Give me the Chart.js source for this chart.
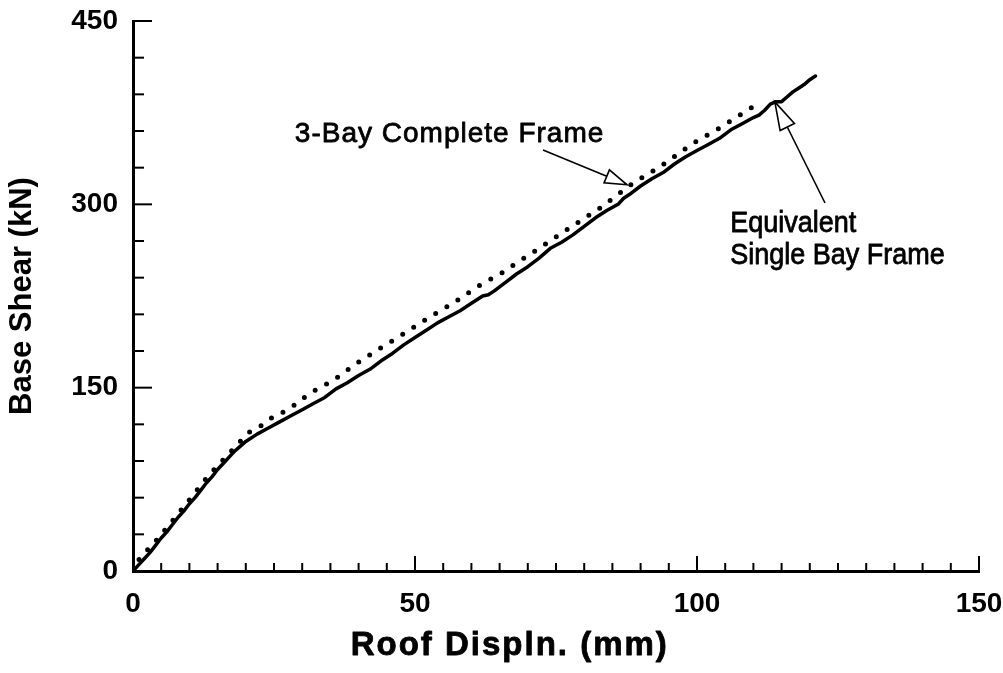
<!DOCTYPE html>
<html><head><meta charset="utf-8">
<script src="https://cdn.jsdelivr.net/npm/chart.js@4/dist/chart.umd.min.js"></script>
<style>html,body{margin:0;padding:0;background:#fff}canvas{display:block}</style>
</head><body>
<canvas id="c" width="1003" height="673"></canvas>
<script>
// ---- data ----
const singleX = [0,1,2,3,4,5,6,7,8,9,10,11,12,13,14,15,16,17,18,19,20,22,24,26,28,30,32,34,36,38,40,42,44,46,48,50,52,54,56,58,60,62,63,64,66,68,70,72,74,76,78,80,82,84,86,87,88,90,92,94,96,98,100,102,104,106,108,110,111,112,113,114,115,116,117,118,119,120,121];
const singleY = [0,5,10,15,21,27,32,38,44,49,55,60,66,72,77,83,88,93,98,102,106,112,117,122,127,132,137,142,149,154,160,165,172,178,185,191,197,203,208,213,219,225,226,229,236,243,249,256,264,269,275,282,289,295,300,305,308,315,321,326,333,339,344,349,354,361,366,371,373,377,382,384,384,388,392,395,398,402,405];
const bay3X = [0,1.2,3.9,7.1,10.4,13.3,16.6,18.4,20.4,23,24.8,26.6,28.4,31.4,35.5,39.7,44.1,48.2,52.7,56.7,61.2,65.4,68,72,76.2,82.8,88.7,93.4,99.3,104,108.2,110.3];
const bay3Y = [0,10.6,23.7,41.7,60.6,77.7,94,103,113,119.5,126,130,135,145.6,156,170,183,194.7,208,219,233,244,252,264,277,297,317.5,330.6,350,362.5,374.8,381];
const xTickLabels = [0,50,100,150];
const yTickLabels = [0,150,300,450];
const xMinorStep = 5;
const yMinorStep = 30;
const xTitle = 'Roof Displn. (mm)';
const yTitle = 'Base Shear (kN)';
const label3Bay = '3-Bay Complete Frame';
const labelSingle = ['Equivalent', 'Single Bay Frame'];

const FONT = '"Liberation Sans", Arial, sans-serif';
const toPts = (xs, ys) => xs.map((x, i) => ({x: x, y: ys[i]}));

function arrow(ctx, x1, y1, x2, y2, hl, hw) {
  const ang = Math.atan2(y2 - y1, x2 - x1);
  const bx = x2 - hl * Math.cos(ang), by = y2 - hl * Math.sin(ang);
  ctx.beginPath(); ctx.moveTo(x1, y1); ctx.lineTo(bx, by); ctx.stroke();
  const nx = -Math.sin(ang), ny = Math.cos(ang);
  ctx.beginPath();
  ctx.moveTo(x2, y2);
  ctx.lineTo(bx + nx * hw, by + ny * hw);
  ctx.lineTo(bx - nx * hw, by - ny * hw);
  ctx.closePath();
  ctx.fillStyle = '#fff'; ctx.fill(); ctx.stroke();
}

function heavyText(ctx, t, px, py, font, sx, spacing, align) {
  ctx.save();
  ctx.font = font;
  ctx.letterSpacing = spacing;
  ctx.textAlign = align;
  ctx.textBaseline = 'alphabetic';
  ctx.fillStyle = '#000'; ctx.strokeStyle = '#000';
  ctx.lineWidth = 0.8; ctx.lineJoin = 'round';
  ctx.translate(px, py);
  ctx.scale(sx, 1);
  ctx.fillText(t, 0, 0);
  ctx.strokeText(t, 0, 0);
  ctx.restore();
}

const decor = {
  id: 'decor',
  afterDatasetsDraw(chart) {
    const ctx = chart.ctx, x = chart.scales.x, y = chart.scales.y;
    const x0 = x.getPixelForValue(0), y0 = y.getPixelForValue(0);
    ctx.save();
    ctx.strokeStyle = '#000'; ctx.lineWidth = 2;
    for (let v = xMinorStep; v <= x.max; v += xMinorStep) {
      const px = x.getPixelForValue(v);
      const major = xTickLabels.includes(v);
      ctx.beginPath(); ctx.moveTo(px, y0); ctx.lineTo(px, y0 - (major ? 15 : 8)); ctx.stroke();
    }
    for (let v = yMinorStep; v <= y.max; v += yMinorStep) {
      const py = y.getPixelForValue(v);
      const major = yTickLabels.includes(v);
      ctx.beginPath(); ctx.moveTo(x0, py); ctx.lineTo(x0 + (major ? 19 : 11), py); ctx.stroke();
    }
    // annotations
    ctx.lineWidth = 1.6;
    arrow(ctx, x.getPixelForValue(72.7), y.getPixelForValue(344.5), x.getPixelForValue(87.6), y.getPixelForValue(316), 22, 7);
    arrow(ctx, x.getPixelForValue(122.7), y.getPixelForValue(301.1), x.getPixelForValue(113.8), y.getPixelForValue(383.8), 28, 8);
    ctx.restore();
    heavyText(ctx, label3Bay, x.getPixelForValue(28.7), y.getPixelForValue(351), '28px ' + FONT, 1, '1px', 'left');
    heavyText(ctx, labelSingle[0], x.getPixelForValue(105.9), y.getPixelForValue(277.4), '30px ' + FONT, 0.9, '0px', 'left');
    heavyText(ctx, labelSingle[1], x.getPixelForValue(105.9), y.getPixelForValue(251.2), '30px ' + FONT, 0.9, '0px', 'left');
    heavyText(ctx, xTitle, x.getPixelForValue(66.8), y.getPixelForValue(-68.7), 'bold 33px ' + FONT, 1, '2px', 'center');
  }
};

new Chart(document.getElementById('c'), {
  type: 'line',
  data: {
    datasets: [
      {
        label: 'Equivalent Single Bay Frame',
        data: toPts(singleX, singleY),
        borderColor: '#000', borderWidth: 3.5, pointRadius: 0, tension: 0,
        borderJoinStyle: 'round', borderCapStyle: 'round'
      },
      {
        label: '3-Bay Complete Frame',
        data: toPts(bay3X, bay3Y),
        borderColor: '#000', borderWidth: 5, pointRadius: 0, tension: 0,
        borderDash: [0, 13], borderCapStyle: 'round'
      }
    ]
  },
  options: {
    responsive: false,
    animation: false,
    devicePixelRatio: 1,
    layout: {padding: {top: 21, right: 24, left: 0, bottom: 0}},
    plugins: {legend: {display: false}, tooltip: {enabled: false}},
    scales: {
      x: {
        type: 'linear', min: 0, max: 150,
        afterBuildTicks: s => { s.ticks = xTickLabels.map(v => ({value: v})); },
        afterFit: s => { s.height = 102; s.paddingLeft = 0; s.paddingRight = 0; },
        ticks: {color: '#000', padding: 16, maxRotation: 0, autoSkip: false, font: {family: FONT, size: 28, weight: 'bold'}},
        grid: {display: true, drawOnChartArea: false, drawTicks: false, color: '#000'},
        border: {display: true, color: '#000', width: 3},
        title: {display: false}
      },
      y: {
        type: 'linear', min: 0, max: 450,
        afterBuildTicks: s => { s.ticks = yTickLabels.map(v => ({value: v})); },
        afterFit: s => { s.width = 133; s.paddingTop = 0; s.paddingBottom = 0; },
        ticks: {color: '#000', padding: 15, autoSkip: false, font: {family: FONT, size: 28, weight: 'bold'}},
        grid: {display: true, drawOnChartArea: false, drawTicks: false, color: '#000'},
        border: {display: true, color: '#000', width: 3},
        title: {display: true, text: yTitle, color: '#000', font: {family: FONT, size: 31, weight: 'bold'}, padding: {top: 4, bottom: 0}}
      }
    }
  },
  plugins: [decor]
});
</script>
</body></html>
